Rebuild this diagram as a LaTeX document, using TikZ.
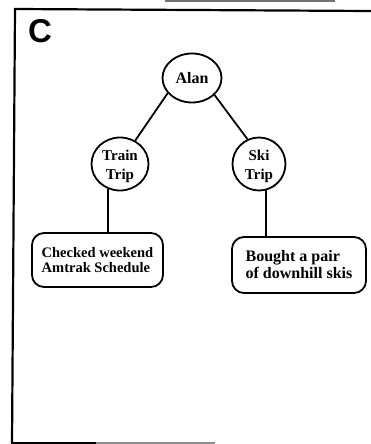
\documentclass[tikz,border=0pt]{standalone}
\usepackage{fontspec}
\setmainfont{Liberation Serif}
\newfontfamily\labelfont{Liberation Sans}
\usetikzlibrary{shapes.geometric}
\begin{document}
\begin{tikzpicture}[x=1pt,y=-1pt,
  topic/.style={ellipse,draw,line width=1.8pt,inner sep=0pt},
  topictext/.style={font=\bfseries\fontsize{#1}{19}\selectfont,align=center,inner sep=0pt},
  event/.style={rectangle,draw,line width=1.8pt,rounded corners=12pt,
    inner sep=0pt,align=left},
  link/.style={line width=1.8pt},
  frameline/.style={line width=2.2pt}]
\useasboundingbox (0,0) rectangle (371,444);
% panel frame
\coordinate (ftl) at (15,9);
\coordinate (ftr) at (371,11);
\coordinate (fbl) at (12,444);
\coordinate (fbr) at (96,443);
\draw[frameline] (ftr) -- (ftl) -- (fbl);
\draw[frameline] (12,443) -- (fbr);
\draw[line width=1.2pt,black!45] (fbr) -- (215,443);
\draw[line width=1.5pt,black!55] (165,1) -- (335,1);
% panel letter
\node[font=\labelfont\bfseries\fontsize{33}{33}\selectfont,anchor=center] (letter) at (40,31) {C};
% topic circles, text set separately so the outline keeps its size
\node[topic,minimum width=59pt,minimum height=49pt] (alan) at (192,78) {};
\node[topictext=16] (alantext) at (alan.center) {Alan};
\node[topic,minimum width=57pt,minimum height=53pt] (train) at (120,164) {};
\node[topictext=15] (traintext) at ([yshift=-2pt]train.center) {Train\\Trip};
\node[topic,minimum width=53pt,minimum height=53pt] (ski) at (259,164) {};
\node[topictext=15] (skitext) at ([yshift=-2pt]ski.center) {Ski\\Trip};
% event boxes
\node[event,minimum width=131pt,minimum height=54pt,
  font=\bfseries\fontsize{14.5}{15.5}\selectfont] (sched) at (97.5,260) {Checked weekend\\Amtrak Schedule};
\node[event,minimum width=134pt,minimum height=56pt,
  font=\bfseries\fontsize{16}{17}\selectfont] (skis) at (299,265) {Bought a pair\\of downhill skis};
% connectors
\draw[link] (alan.212) -- (train.57);
\draw[link] (alan.323) -- (ski.115);
\draw[link] (train.245) -- (train.245 |- sched.north);
\draw[link] (ski.285) -- (ski.285 |- skis.north);
\end{tikzpicture}
\end{document}
